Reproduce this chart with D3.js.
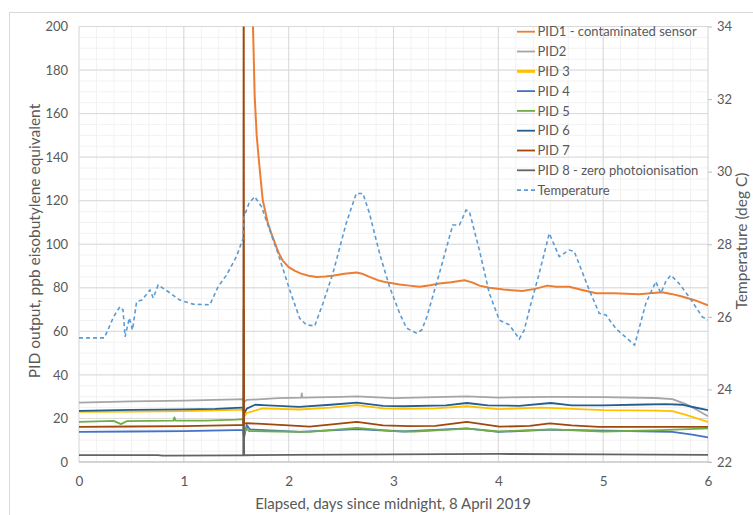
<!DOCTYPE html>
<html><head><meta charset="utf-8">
<script src="https://cdn.jsdelivr.net/npm/d3@7"></script>
<style>
html,body{margin:0;padding:0;background:#fff;}
text{font-family:Lato,"Open Sans",sans-serif;fill:#595959;}
</style></head>
<body>
<svg id="chart" width="753" height="515"></svg>
<script>
// ---- data (x = days since midnight 8 April 2019) ----
const xTicks = [0,1,2,3,4,5,6];
const yTicks = [0,20,40,60,80,100,120,140,160,180,200];
const tTicks = [22,24,26,28,30,32,34];
const seriesNames = ["PID1 - contaminated sensor","PID2","PID 3","PID 4","PID 5","PID 6","PID 7","PID 8 - zero photoionisation","Temperature"];

const pid1 = [[1.650,280],[1.657,205],[1.676,168],[1.695,150],[1.714,139.5],[1.752,120.5],[1.80,110],[1.838,104.5],[1.90,96.5],[1.943,92.5],[2.0,89.5],[2.06,87.8],[2.119,86.5],[2.19,85.5],[2.267,85],[2.35,85.2],[2.419,85.5],[2.53,86.5],[2.648,87],[2.70,86.5],[2.771,85],[2.85,83.5],[2.933,82.5],[3.057,81.5],[3.15,81],[3.248,80.5],[3.35,81.2],[3.438,82],[3.55,82.5],[3.676,83.5],[3.75,82.5],[3.82,81],[3.914,80],[4.05,79.2],[4.229,78.5],[4.35,79.5],[4.467,81],[4.55,80.5],[4.676,80.5],[4.80,79],[4.933,77.5],[5.10,77.5],[5.343,77],[5.45,77.5],[5.562,78],[5.65,77.2],[5.752,76],[5.88,74.2],[6.0,72]];
const pid2 = [[0,27.3],[0.5,27.8],[1.0,28.2],[1.5,28.8],[1.566,28.9],[1.573,27.5],[1.6,28.5],[1.9,29.3],[2.12,29.6],[2.125,31.5],[2.13,29.6],[2.5,29.9],[2.65,30.1],[3.0,29.3],[3.5,29.9],[3.7,30.1],[4.0,29.6],[4.5,29.9],[5.0,29.8],[5.5,29.4],[5.66,28.9],[5.79,26.6],[5.9,23.8],[6.0,21]];
const pid3 = [[0,23.0],[0.5,23.2],[1.0,23.4],[1.5,24.0],[1.566,24.1],[1.573,20.5],[1.6,22.5],[1.75,24.6],[2.1,24.1],[2.4,25.0],[2.65,26.1],[2.9,24.6],[3.1,24.4],[3.4,24.6],[3.7,25.6],[4.0,24.3],[4.4,25.0],[4.6,24.6],[5.0,23.8],[5.5,23.6],[5.66,23.4],[5.79,21.6],[6.0,18.4]];
const pid4 = [[0,13.8],[0.5,14.0],[1.0,14.2],[1.5,14.6],[1.566,14.6],[1.573,11.0],[1.6,17.0],[1.63,15.0],[2.1,13.8],[2.65,15.1],[3.1,14.0],[3.7,15.4],[4.0,13.8],[4.5,14.9],[5.0,14.4],[5.5,14.0],[5.66,13.8],[5.85,12.6],[6.0,11.3]];
const pid5 = [[0,18.4],[0.33,18.9],[0.40,17.4],[0.46,18.8],[0.9,19.0],[0.91,20.5],[0.92,19.0],[1.2,19.0],[1.5,19.5],[1.566,19.7],[1.573,13.0],[1.6,15.5],[1.62,14.2],[1.9,14.0],[2.2,13.8],[2.65,15.7],[3.0,14.2],[3.2,14.0],[3.7,15.3],[4.0,14.0],[4.5,15.0],[5.0,14.0],[5.5,14.5],[6.0,15.4]];
const pid6 = [[0,23.5],[0.5,23.9],[1.0,24.2],[1.3,24.4],[1.55,25.0],[1.566,25.0],[1.573,22.0],[1.6,24.5],[1.68,26.3],[1.8,26.0],[2.1,25.3],[2.4,26.3],[2.65,27.3],[2.9,25.8],[3.1,25.6],[3.5,26.0],[3.7,27.1],[3.9,26.0],[4.2,25.8],[4.5,27.1],[4.7,26.0],[5.0,26.0],[5.4,26.4],[5.6,26.6],[5.75,26.3],[5.9,24.8],[6.0,23.8]];
const pid7 = [[0,16.1],[0.5,16.3],[1.0,16.5],[1.5,16.9],[1.568,17.0],[1.571,300],[1.574,17.5],[1.6,17.8],[1.7,17.6],[2.0,16.8],[2.2,16.2],[2.65,18.4],[2.9,16.8],[3.15,16.5],[3.4,16.6],[3.7,18.4],[4.01,16.2],[4.3,16.6],[4.49,17.7],[4.7,16.8],[4.96,16.1],[5.5,16.1],[6.0,16.1]];
const pid8 = [[0,3.2],[0.75,3.2],[0.8,2.9],[1.5,3.0],[1.567,3.0],[1.571,70],[1.575,3.1],[2.0,3.3],[3.0,3.5],[4.0,3.7],[5.0,3.5],[6.0,3.3]];
const temperature = [[0,25.42],[0.24,25.42],[0.27,25.6],[0.33,26.0],[0.39,26.28],[0.42,26.19],[0.44,25.45],[0.48,25.97],[0.51,25.64],[0.55,26.42],[0.60,26.46],[0.677,26.74],[0.708,26.52],[0.755,26.88],[0.867,26.66],[0.962,26.46],[1.089,26.35],[1.248,26.33],[1.327,26.83],[1.407,27.15],[1.502,27.66],[1.565,28.16],[1.575,28.76],[1.622,29.13],[1.676,29.31],[1.74,29.04],[1.819,28.39],[1.898,27.75],[2.010,26.74],[2.105,25.96],[2.168,25.78],[2.248,25.75],[2.327,26.37],[2.422,27.20],[2.549,28.58],[2.645,29.40],[2.708,29.40],[2.771,28.85],[2.867,27.75],[2.962,26.83],[3.058,26.10],[3.124,25.69],[3.22,25.55],[3.27,25.64],[3.318,26.0],[3.438,27.2],[3.565,28.53],[3.629,28.53],[3.692,28.94],[3.724,28.9],[3.819,27.84],[3.914,26.65],[4.010,25.91],[4.105,25.78],[4.20,25.39],[4.248,25.64],[4.295,26.19],[4.390,27.2],[4.486,28.3],[4.581,27.66],[4.676,27.84],[4.724,27.8],[4.867,26.74],[4.962,26.10],[5.026,26.05],[5.12,25.68],[5.30,25.22],[5.407,26.37],[5.502,26.97],[5.550,26.65],[5.597,26.97],[5.645,27.15],[5.724,26.92],[5.819,26.55],[5.946,26.0],[6.0,25.91]];

const colors = ["#ED7D31","#A5A5A5","#FFC000","#4472C4","#70AD47","#255E91","#9E480E","#636363","#5B9BD5"];

// ---- layout ----
const svg = d3.select("#chart");
const L=79, R=708, T=26.5, B=462;
const x = d3.scaleLinear([0,6],[L,R]);
const y = d3.scaleLinear([0,200],[B,T]);
const yT = d3.scaleLinear([22,34],[B,T]);

svg.append("rect").attr("x",9.5).attr("y",12.5).attr("width",800).attr("height",600)
  .attr("fill","none").attr("stroke","#D9D9D9");

// minor grid
const g = svg.append("g");
g.selectAll("line.vmin").data(d3.range(0,37).map(i=>i/6)).join("line")
  .attr("x1",d=>x(d)).attr("x2",d=>x(d)).attr("y1",T).attr("y2",B)
  .attr("stroke","#F2F2F2").attr("stroke-width",1);
g.selectAll("line.hmin").data(d3.range(0,41).map(i=>i*5)).join("line")
  .attr("x1",L).attr("x2",R).attr("y1",d=>y(d)).attr("y2",d=>y(d))
  .attr("stroke","#F2F2F2").attr("stroke-width",1);
// major grid
g.selectAll("line.vmaj").data(xTicks).join("line")
  .attr("x1",d=>x(d)).attr("x2",d=>x(d)).attr("y1",T).attr("y2",B)
  .attr("stroke","#D9D9D9").attr("stroke-width",1);
g.selectAll("line.hmaj").data(yTicks).join("line")
  .attr("x1",L).attr("x2",R).attr("y1",d=>y(d)).attr("y2",d=>y(d))
  .attr("stroke","#D9D9D9").attr("stroke-width",1);
// bottom axis line
svg.append("line").attr("x1",L).attr("x2",R+3).attr("y1",B).attr("y2",B).attr("stroke","#BFBFBF");

// axes
const axL = svg.append("g").attr("transform",`translate(${L-8},0)`)
  .call(d3.axisLeft(y).tickValues(yTicks).tickSize(0).tickFormat(d3.format("d")));
const axB = svg.append("g").attr("transform",`translate(0,${B+11})`)
  .call(d3.axisBottom(x).tickValues(xTicks).tickSize(0).tickFormat(d3.format("d")));
const axR = svg.append("g").attr("transform",`translate(${R},0)`)
  .call(d3.axisRight(yT).tickValues(tTicks).tickSize(4).tickPadding(5).tickFormat(d3.format("d")));
[axL,axB,axR].forEach(a=>{a.select(".domain").remove();
  a.selectAll("text").style("font-family","Lato").style("font-size","13px").attr("fill","#595959");});
axR.selectAll("line").attr("stroke","#BFBFBF");
axB.selectAll("text").attr("fill","#262626").style("font-size","13.5px");

// titles
svg.append("text").attr("x",393).attr("y",509).attr("text-anchor","middle")
  .style("font-size","15px").text("Elapsed, days since midnight, 8 April 2019");
svg.append("text").attr("transform","translate(40,241) rotate(-90)").attr("text-anchor","middle")
  .style("font-size","15.5px").text("PID output, ppb eisobutylene equivalent");
svg.append("text").attr("transform","translate(747,241) rotate(-90)").attr("text-anchor","middle")
  .style("font-size","15.5px").text("Temperature (deg C)");

// clip
svg.append("clipPath").attr("id","clip").append("rect")
  .attr("x",L).attr("y",T).attr("width",R-L).attr("height",B-T);
const plot = svg.append("g").attr("clip-path","url(#clip)");

const lineL = d3.line().x(d=>x(d[0])).y(d=>y(d[1]));
const lineT = d3.line().x(d=>x(d[0])).y(d=>yT(d[1]));
const pids = [pid1,pid2,pid3,pid4,pid5,pid6,pid7,pid8];
const order = [1,2,3,4,5,7,0,6];
order.forEach(i=>{
  plot.append("path").datum(pids[i]).attr("d",lineL).attr("fill","none")
    .attr("stroke",colors[i]).attr("stroke-width",i===0?2:1.8).attr("stroke-linejoin","round");
});
plot.append("path").datum(temperature).attr("d",lineT).attr("fill","none")
  .attr("stroke",colors[8]).attr("stroke-width",1.6).attr("stroke-dasharray","4,3");

// legend
const lg = svg.append("g");
seriesNames.forEach((n,i)=>{
  const yy = 31.7 + i*19.8;
  lg.append("line").attr("x1",517).attr("x2",535).attr("y1",yy).attr("y2",yy)
    .attr("stroke",colors[i]).attr("stroke-width",i===2?3:1.8)
    .attr("stroke-dasharray",i===8?"4,3":null);
  lg.append("text").attr("x",537.5).attr("y",yy+4.6).style("font-size","13px").text(n);
});
</script>
</body></html>
